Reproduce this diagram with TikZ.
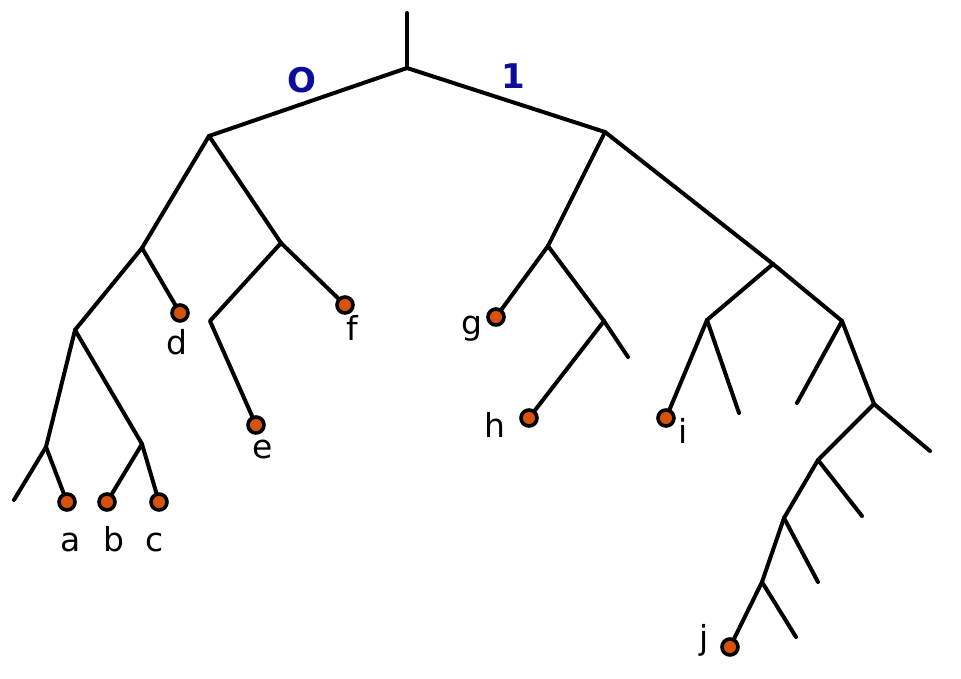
\documentclass[tikz,border=0pt]{standalone}
\usepackage{fontspec}
\setmainfont{DejaVu Sans}
\usepackage{tikz}
\usetikzlibrary{positioning}
\definecolor{leaforange}{HTML}{D9520B}
\definecolor{bitblue}{HTML}{0B0B9C}

\begin{document}
\begin{tikzpicture}[
  x=1pt, y=-1pt,
  branch/.style={line width=4pt, line cap=round, line join=round},
  leaf/.style={circle, draw=black, line width=3.6pt, fill=leaforange, inner sep=0pt, minimum size=16pt},
  lab/.style={font=\fontsize{33}{35}\selectfont, inner sep=0pt, anchor=base},
  bit/.style={font=\fontsize{34}{36}\selectfont\bfseries, text=bitblue, inner sep=0pt, anchor=base}
]
\useasboundingbox (0,0) rectangle (961,678);
% inner vertices, named by their code
\coordinate (top) at (407,13);
\coordinate (root) at (407,68);
\coordinate (n0) at (209,136);
\coordinate (n1) at (605,132);
\coordinate (n00) at (142,248);
\coordinate (n01) at (281,243);
\coordinate (n000) at (75,330);
\coordinate (n010) at (210,321);
\coordinate (n0000) at (46,447);
\coordinate (n0001) at (142,444);
\coordinate (n00000) at (14,500);
\coordinate (n10) at (548,246);
\coordinate (n11) at (773,264);
\coordinate (n101) at (604,321);
\coordinate (n1011) at (628,357);
\coordinate (n110) at (707,320);
\coordinate (n111) at (842,321);
\coordinate (n1101) at (739,413);
\coordinate (n1110) at (797,403);
\coordinate (n1111) at (874,404);
\coordinate (n11110) at (818,460);
\coordinate (n11111) at (930,451);
\coordinate (n111100) at (784,518);
\coordinate (n111101) at (862,516);
\coordinate (n1111000) at (762,582);
\coordinate (n1111001) at (818,582);
\coordinate (n11110001) at (796,637);
% leaves
\node[leaf] (a) at (67,502) {};
\node[leaf] (b) at (107,502) {};
\node[leaf] (c) at (159,502) {};
\node[leaf] (d) at (180,313) {};
\node[leaf] (e) at (256,425) {};
\node[leaf] (f) at (345,305) {};
\node[leaf] (g) at (496,317) {};
\node[leaf] (h) at (529,418) {};
\node[leaf] (i) at (666,418) {};
\node[leaf] (j) at (730,647) {};
% leaf names, set on their baselines
\node[lab] (la) at (71,551) {a};
\node[lab] (lb) at (114,551) {b};
\node[lab] (lc) at (155,551) {c};
\node[lab] (ld) at (177,354) {d};
\node[lab] (le) at (263,458) {e};
\node[lab] (lf) at (352,340) {f};
\node[lab] (lg) at (472,334) {g};
\node[lab] (lh) at (495,437) {h};
\node[lab] (li) at (683,443) {i};
\node[lab] (lj) at (704,649) {j};
% bits on the two top branches
\node[bit] (bit0) at (302,92) {O};
\node[bit] (bit1) at (513,88) {1};
% branches
\draw[branch] (top) -- (root);
\draw[branch] (root) -- (n0);
\draw[branch] (root) -- (n1);
\draw[branch] (n0) -- (n00);
\draw[branch] (n0) -- (n01);
\draw[branch] (n00) -- (n000);
\draw[branch] (n00) -- (d);
\draw[branch] (n01) -- (n010) -- (e);
\draw[branch] (n01) -- (f);
\draw[branch] (n000) -- (n0000);
\draw[branch] (n000) -- (n0001);
\draw[branch] (n0000) -- (n00000);
\draw[branch] (n0000) -- (a);
\draw[branch] (n0001) -- (b);
\draw[branch] (n0001) -- (c);
\draw[branch] (n1) -- (n10);
\draw[branch] (n1) -- (n11);
\draw[branch] (n10) -- (g);
\draw[branch] (n10) -- (n101);
\draw[branch] (n101) -- (h);
\draw[branch] (n101) -- (n1011);
\draw[branch] (n11) -- (n110);
\draw[branch] (n11) -- (n111);
\draw[branch] (n110) -- (i);
\draw[branch] (n110) -- (n1101);
\draw[branch] (n111) -- (n1110);
\draw[branch] (n111) -- (n1111);
\draw[branch] (n1111) -- (n11110);
\draw[branch] (n1111) -- (n11111);
\draw[branch] (n11110) -- (n111100);
\draw[branch] (n11110) -- (n111101);
\draw[branch] (n111100) -- (n1111000);
\draw[branch] (n111100) -- (n1111001);
\draw[branch] (n1111000) -- (j);
\draw[branch] (n1111000) -- (n11110001);
\end{tikzpicture}
\end{document}
